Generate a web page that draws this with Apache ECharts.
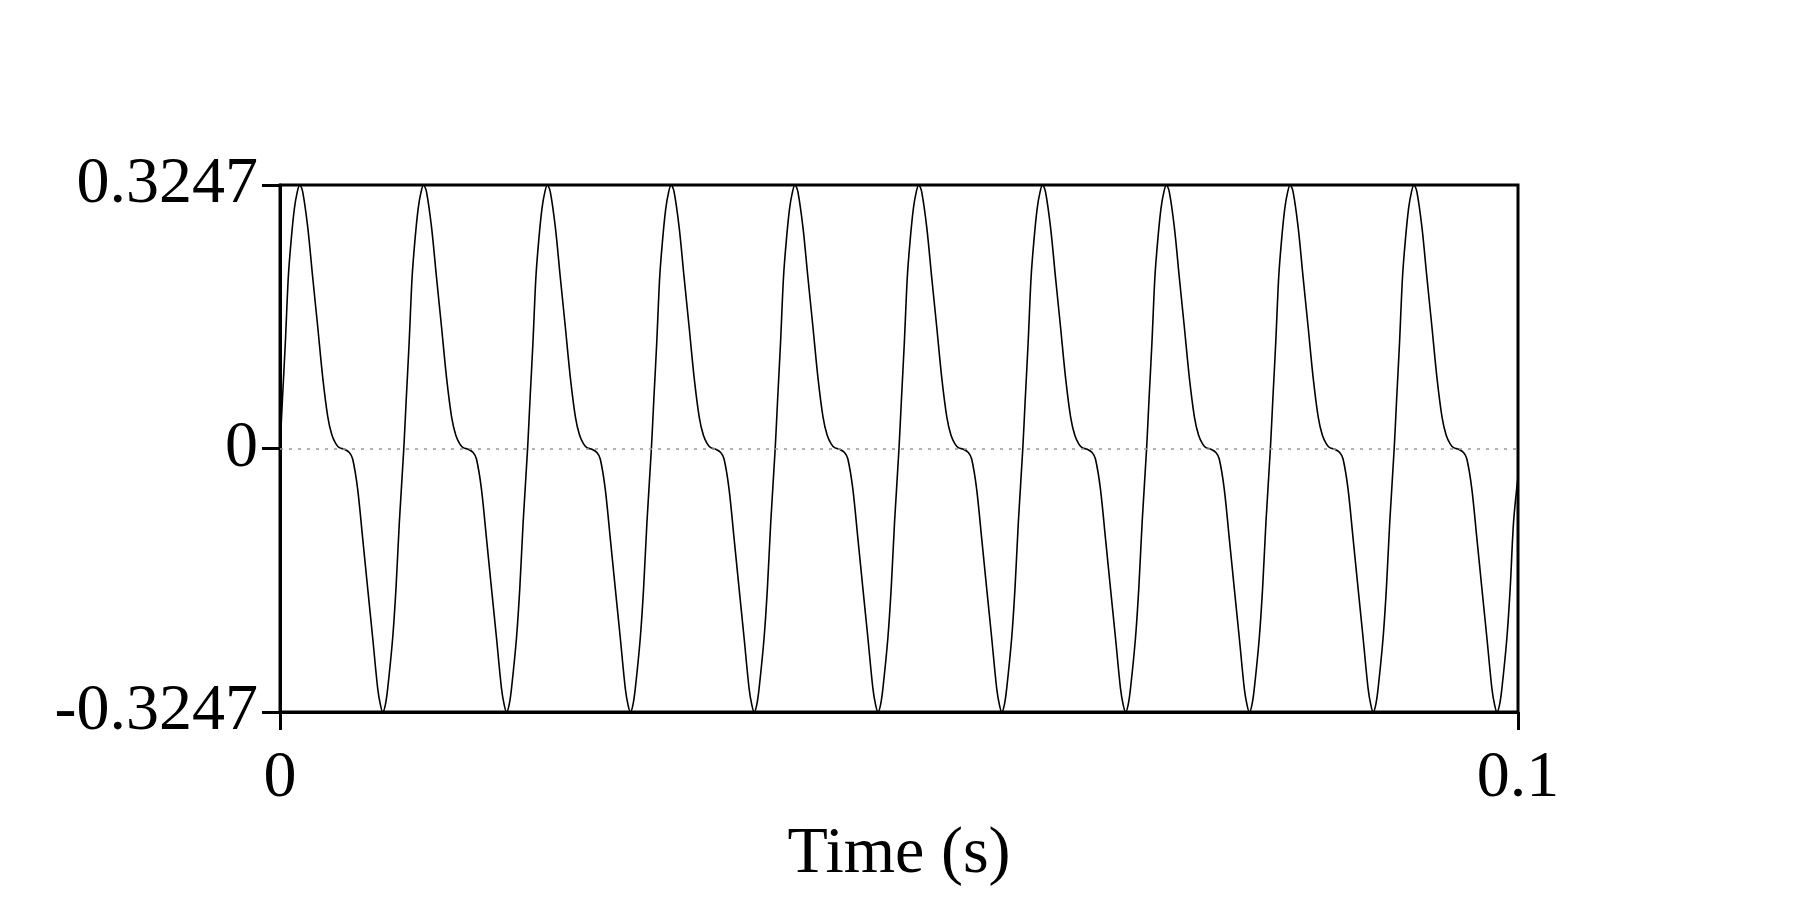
<!DOCTYPE html>
<html>
<head>
<meta charset="utf-8">
<script src="https://cdn.jsdelivr.net/npm/echarts@6/dist/echarts.min.js"></script>
<style>html,body{margin:0;padding:0;background:#fff;}#chart{width:1800px;height:900px;}</style>
</head>
<body>
<div id="chart"></div>
<script>
// Time stamps in milliseconds
const timeMs = [
  0,0.2,0.43,0.67,0.9,1.16,1.4,1.6,1.83,2.24,2.64,3.05,3.45,3.86,4.2,4.52,4.8,5.2,5.6,5.87,6.27,6.68,7.08,7.49,7.89,8.12,8.3,8.5,8.7,9.1,9.37,9.64,
  10,10.2,10.43,10.67,10.9,11.16,11.4,11.6,11.83,12.24,12.64,13.05,13.45,13.86,14.2,14.52,14.8,15.2,15.6,15.87,16.27,16.68,17.08,17.49,17.89,18.12,18.3,18.5,18.7,19.1,19.37,19.64,
  20,20.2,20.43,20.67,20.9,21.16,21.4,21.6,21.83,22.24,22.64,23.05,23.45,23.86,24.2,24.52,24.8,25.2,25.6,25.87,26.27,26.68,27.08,27.49,27.89,28.12,28.3,28.5,28.7,29.1,29.37,29.64,
  30,30.2,30.43,30.67,30.9,31.16,31.4,31.6,31.83,32.24,32.64,33.05,33.45,33.86,34.2,34.52,34.8,35.2,35.6,35.87,36.27,36.68,37.08,37.49,37.89,38.12,38.3,38.5,38.7,39.1,39.37,39.64,
  40,40.2,40.43,40.67,40.9,41.16,41.4,41.6,41.83,42.24,42.64,43.05,43.45,43.86,44.2,44.52,44.8,45.2,45.6,45.87,46.27,46.68,47.08,47.49,47.89,48.12,48.3,48.5,48.7,49.1,49.37,49.64,
  50,50.2,50.43,50.67,50.9,51.16,51.4,51.6,51.83,52.24,52.64,53.05,53.45,53.86,54.2,54.52,54.8,55.2,55.6,55.87,56.27,56.68,57.08,57.49,57.89,58.12,58.3,58.5,58.7,59.1,59.37,59.64,
  60,60.2,60.43,60.67,60.9,61.16,61.4,61.6,61.83,62.24,62.64,63.05,63.45,63.86,64.2,64.52,64.8,65.2,65.6,65.87,66.27,66.68,67.08,67.49,67.89,68.12,68.3,68.5,68.7,69.1,69.37,69.64,
  70,70.2,70.43,70.67,70.9,71.16,71.4,71.6,71.83,72.24,72.64,73.05,73.45,73.86,74.2,74.52,74.8,75.2,75.6,75.87,76.27,76.68,77.08,77.49,77.89,78.12,78.3,78.5,78.7,79.1,79.37,79.64,
  80,80.2,80.43,80.67,80.9,81.16,81.4,81.6,81.83,82.24,82.64,83.05,83.45,83.86,84.2,84.52,84.8,85.2,85.6,85.87,86.27,86.68,87.08,87.49,87.89,88.12,88.3,88.5,88.7,89.1,89.37,89.64,
  90,90.2,90.43,90.67,90.9,91.16,91.4,91.6,91.83,92.24,92.64,93.05,93.45,93.86,94.2,94.52,94.8,95.2,95.6,95.87,96.27,96.68,97.08,97.49,97.89,98.12,98.3,98.5,98.7,99.1,99.37,99.64,
  100
];
// Amplitude values
const amplitude = [
  0,0.0617,0.1299,0.2111,0.2565,0.2955,0.3166,0.3247,0.3166,0.2727,0.2111,0.1494,0.0877,0.0390,0.0162,0.0058,0.0010,-0.0010,-0.0049,-0.0130,-0.0497,-0.1110,-0.1721,-0.2338,-0.2955,-0.3166,-0.3247,-0.3166,-0.2955,-0.2338,-0.1721,-0.0909,
  0,0.0617,0.1299,0.2111,0.2565,0.2955,0.3166,0.3247,0.3166,0.2727,0.2111,0.1494,0.0877,0.0390,0.0162,0.0058,0.0010,-0.0010,-0.0049,-0.0130,-0.0497,-0.1110,-0.1721,-0.2338,-0.2955,-0.3166,-0.3247,-0.3166,-0.2955,-0.2338,-0.1721,-0.0909,
  0,0.0617,0.1299,0.2111,0.2565,0.2955,0.3166,0.3247,0.3166,0.2727,0.2111,0.1494,0.0877,0.0390,0.0162,0.0058,0.0010,-0.0010,-0.0049,-0.0130,-0.0497,-0.1110,-0.1721,-0.2338,-0.2955,-0.3166,-0.3247,-0.3166,-0.2955,-0.2338,-0.1721,-0.0909,
  0,0.0617,0.1299,0.2111,0.2565,0.2955,0.3166,0.3247,0.3166,0.2727,0.2111,0.1494,0.0877,0.0390,0.0162,0.0058,0.0010,-0.0010,-0.0049,-0.0130,-0.0497,-0.1110,-0.1721,-0.2338,-0.2955,-0.3166,-0.3247,-0.3166,-0.2955,-0.2338,-0.1721,-0.0909,
  0,0.0617,0.1299,0.2111,0.2565,0.2955,0.3166,0.3247,0.3166,0.2727,0.2111,0.1494,0.0877,0.0390,0.0162,0.0058,0.0010,-0.0010,-0.0049,-0.0130,-0.0497,-0.1110,-0.1721,-0.2338,-0.2955,-0.3166,-0.3247,-0.3166,-0.2955,-0.2338,-0.1721,-0.0909,
  0,0.0617,0.1299,0.2111,0.2565,0.2955,0.3166,0.3247,0.3166,0.2727,0.2111,0.1494,0.0877,0.0390,0.0162,0.0058,0.0010,-0.0010,-0.0049,-0.0130,-0.0497,-0.1110,-0.1721,-0.2338,-0.2955,-0.3166,-0.3247,-0.3166,-0.2955,-0.2338,-0.1721,-0.0909,
  0,0.0617,0.1299,0.2111,0.2565,0.2955,0.3166,0.3247,0.3166,0.2727,0.2111,0.1494,0.0877,0.0390,0.0162,0.0058,0.0010,-0.0010,-0.0049,-0.0130,-0.0497,-0.1110,-0.1721,-0.2338,-0.2955,-0.3166,-0.3247,-0.3166,-0.2955,-0.2338,-0.1721,-0.0909,
  0,0.0617,0.1299,0.2111,0.2565,0.2955,0.3166,0.3247,0.3166,0.2727,0.2111,0.1494,0.0877,0.0390,0.0162,0.0058,0.0010,-0.0010,-0.0049,-0.0130,-0.0497,-0.1110,-0.1721,-0.2338,-0.2955,-0.3166,-0.3247,-0.3166,-0.2955,-0.2338,-0.1721,-0.0909,
  0,0.0617,0.1299,0.2111,0.2565,0.2955,0.3166,0.3247,0.3166,0.2727,0.2111,0.1494,0.0877,0.0390,0.0162,0.0058,0.0010,-0.0010,-0.0049,-0.0130,-0.0497,-0.1110,-0.1721,-0.2338,-0.2955,-0.3166,-0.3247,-0.3166,-0.2955,-0.2338,-0.1721,-0.0909,
  0,0.0617,0.1299,0.2111,0.2565,0.2955,0.3166,0.3247,0.3166,0.2727,0.2111,0.1494,0.0877,0.0390,0.0162,0.0058,0.0010,-0.0010,-0.0049,-0.0130,-0.0497,-0.1110,-0.1721,-0.2338,-0.2955,-0.3166,-0.3247,-0.3166,-0.2955,-0.2338,-0.1721,-0.0909,
  -0.035
];
const yTicks = [-0.3247, 0, 0.3247];
const xTicks = [0, 0.1];
const xTitle = 'Time (s)';

const FONT = "'Liberation Serif', 'Times New Roman', serif";
const data = timeMs.map((t, i) => [t / 1000, amplitude[i]]);

const chart = echarts.init(document.getElementById('chart'), null, {renderer: 'canvas'});
chart.setOption({
  animation: false,
  backgroundColor: '#ffffff',
  grid: {left: 280, right: 282, top: 185, bottom: 188, show: true, borderColor: '#000', borderWidth: 3, backgroundColor: 'transparent'},
  xAxis: {
    type: 'value', min: xTicks[0], max: xTicks[1], interval: xTicks[1] - xTicks[0],
    name: xTitle, nameLocation: 'middle', nameGap: 110,
    nameTextStyle: {fontFamily: FONT, fontSize: 66, color: '#000'},
    axisLine: {show: true, onZero: false, lineStyle: {color: '#000', width: 3}},
    axisTick: {show: true, length: 18, lineStyle: {color: '#000', width: 3}},
    axisLabel: {fontFamily: FONT, fontSize: 66, color: '#000', margin: 34, showMaxLabel: true, showMinLabel: true,
      formatter: v => String(+v.toFixed(4))},
    splitLine: {show: false}
  },
  yAxis: {
    type: 'value', min: yTicks[0], max: yTicks[2], interval: yTicks[2],
    axisLine: {show: true, onZero: false, lineStyle: {color: '#000', width: 3}},
    axisTick: {show: true, length: 18, lineStyle: {color: '#000', width: 3}},
    axisLabel: {fontFamily: FONT, fontSize: 66, color: '#000', margin: 22, showMaxLabel: true, showMinLabel: true,
      formatter: v => String(+v.toFixed(4))},
    splitLine: {show: false}
  },
  series: [{
    type: 'line', data: data, showSymbol: false, smooth: 0.3,
    lineStyle: {color: '#000', width: 1.6},
    markLine: {
      silent: true, symbol: ['none', 'none'], label: {show: false},
      lineStyle: {color: '#999', width: 1.5, type: [3, 6]},
      data: [{yAxis: yTicks[1]}]
    },
    z: 3
  }]
});
</script>
</body>
</html>
